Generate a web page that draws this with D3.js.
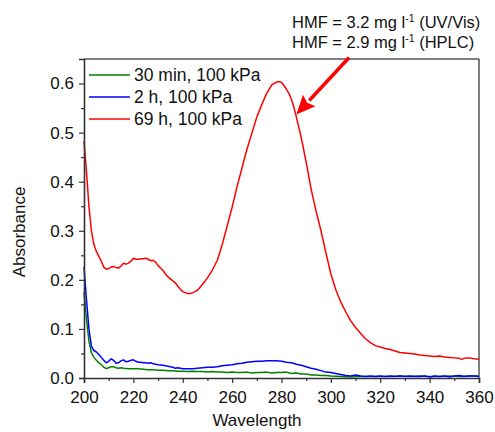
<!doctype html>
<html>
<head>
<meta charset="utf-8">
<script src="https://cdn.jsdelivr.net/npm/d3@7"></script>
<style>
  body { margin: 0; background: #fff; }
  svg { font-family: "Liberation Sans", Arial, sans-serif; }
</style>
</head>
<body>
<svg id="chart" width="495" height="432"></svg>
<script>
// UV/Vis spectra, [wavelength, absorbance]
const green30min = [
  [200,0.175],[201,0.12],[202,0.075],[203,0.052],[204,0.042],[205,0.036],[206,0.031],[207,0.027],
  [208,0.022],[209,0.019],[210,0.021],[211,0.023],[212,0.023],[213,0.021],[214,0.020],[215,0.021],
  [216,0.020],[218,0.019],[220,0.019],[222,0.019],[224,0.018],[226,0.017],[228,0.017],[230,0.016],
  [232,0.016],[234,0.015],[236,0.015],[238,0.014],[240,0.014],[242,0.013],[244,0.014],[246,0.013],
  [248,0.013],[250,0.012],[252,0.013],[254,0.012],[256,0.012],[258,0.011],[260,0.012],[262,0.011],
  [264,0.011],[266,0.012],[268,0.010],[270,0.011],[272,0.011],[274,0.012],[276,0.010],[278,0.011],
  [280,0.011],[282,0.012],[284,0.009],[286,0.010],[288,0.008],[290,0.008],[292,0.006],[294,0.006],
  [296,0.005],[298,0.005],[300,0.004],[304,0.003],[308,0.002],[312,0.003],[316,0.003],[320,0.003],
  [324,0.003],[328,0.004],[332,0.003],[336,0.004],[340,0.003],[344,0.003],[348,0.004],[352,0.003],
  [356,0.004],[360,0.004]
];
const blue2h = [
  [200,0.226],[201,0.16],[202,0.10],[203,0.065],[204,0.056],[205,0.053],[206,0.048],[207,0.042],
  [208,0.036],[209,0.031],[210,0.034],[211,0.039],[212,0.036],[213,0.030],[214,0.031],[215,0.035],
  [216,0.037],[217,0.033],[218,0.034],[219,0.036],[220,0.037],[221,0.034],[222,0.032],[223,0.032],
  [224,0.031],[225,0.031],[226,0.030],[227,0.031],[228,0.029],[229,0.028],[230,0.027],[232,0.026],
  [234,0.024],[236,0.022],[237,0.020],[238,0.021],[240,0.019],[242,0.019],[244,0.019],[246,0.020],
  [248,0.021],[250,0.022],[252,0.022],[254,0.023],[256,0.025],[258,0.026],[260,0.027],[262,0.029],
  [264,0.030],[266,0.032],[268,0.033],[270,0.034],[272,0.034],[274,0.035],[276,0.035],[278,0.035],
  [280,0.034],[282,0.032],[284,0.031],[286,0.028],[288,0.026],[290,0.023],[292,0.020],[294,0.018],
  [296,0.015],[298,0.012],[300,0.011],[302,0.009],[304,0.007],[306,0.005],[308,0.004],[310,0.006],
  [312,0.004],[314,0.003],[316,0.004],[318,0.003],[320,0.004],[322,0.003],[324,0.004],[326,0.003],
  [328,0.004],[330,0.003],[332,0.004],[334,0.003],[336,0.003],[338,0.004],[340,0.002],[342,0.004],
  [344,0.003],[346,0.004],[348,0.002],[350,0.004],[352,0.005],[354,0.003],[356,0.004],[358,0.004],
  [360,0.003]
];
const red69h = [
  [200,0.483],[201,0.42],[202,0.35],[203,0.30],[204,0.272],[205,0.258],[206,0.248],[207,0.238],
  [208,0.226],[209,0.222],[210,0.223],[211,0.226],[212,0.227],[213,0.225],[214,0.224],[215,0.228],
  [216,0.234],[217,0.232],[218,0.234],[219,0.238],[220,0.244],[221,0.242],[222,0.242],[223,0.243],
  [224,0.243],[225,0.244],[226,0.242],[227,0.239],[228,0.240],[229,0.236],[230,0.229],[231,0.224],
  [232,0.219],[233,0.212],[234,0.206],[235,0.202],[236,0.198],[237,0.194],[238,0.187],[239,0.181],
  [240,0.176],[241,0.174],[242,0.172],[243,0.172],[244,0.174],[245,0.176],[246,0.179],[247,0.185],
  [248,0.191],[249,0.197],[250,0.204],[252,0.220],[254,0.240],[256,0.272],[258,0.310],[260,0.348],
  [262,0.390],[264,0.428],[266,0.466],[268,0.499],[270,0.532],[272,0.557],[274,0.580],[276,0.597],
  [278,0.603],[279,0.604],[280,0.602],[281,0.596],[282,0.588],[283,0.580],[284,0.568],[285,0.552],
  [286,0.532],[288,0.490],[290,0.440],[292,0.385],[294,0.340],[296,0.300],[298,0.255],[300,0.212],
  [302,0.180],[304,0.155],[306,0.135],[308,0.117],[310,0.103],[312,0.091],[314,0.080],[316,0.072],
  [318,0.066],[320,0.063],[322,0.060],[324,0.058],[326,0.055],[328,0.052],[330,0.051],[332,0.050],
  [334,0.049],[336,0.047],[338,0.046],[340,0.045],[342,0.044],[344,0.045],[346,0.043],[348,0.042],
  [350,0.041],[352,0.040],[353,0.038],[354,0.040],[356,0.041],[358,0.039],[360,0.038]
];

const seriesNames = ["30 min, 100 kPa", "2 h, 100 kPa", "69 h, 100 kPa"];
const seriesColors = ["#008000", "#0000ff", "#ff0000"];
const seriesData = [green30min, blue2h, red69h];

const xTicks = [200, 220, 240, 260, 280, 300, 320, 340, 360];
const yTicks = [0.0, 0.1, 0.2, 0.3, 0.4, 0.5, 0.6];

const annotationLines = [["HMF = 3.2 mg l", "-1", " (UV/Vis)"], ["HMF = 2.9 mg l", "-1", " (HPLC)"]];
// arrow from above the frame down onto the 69 h peak flank
const arrowFrom = [307.4, 0.653];
const arrowTo = [286.0, 0.537];

const margin = {top: 59, right: 16, bottom: 54, left: 84};
const W = 495, H = 432;
const iw = W - margin.left - margin.right;
const ih = H - margin.top - margin.bottom;

const svg = d3.select("#chart");
const g = svg.append("g").attr("transform", `translate(${margin.left},${margin.top})`);

const x = d3.scaleLinear().domain([200, 360]).range([0, iw]);
const y = d3.scaleLinear().domain([0, 0.65]).range([ih, 0]);

// frame top/right
g.append("path")
    .attr("d", `M0,0H${iw}V${ih}`)
    .attr("fill", "none")
    .attr("stroke", "#000")
    .attr("stroke-width", 1);

const line = d3.line().x(d => x(d[0])).y(d => y(d[1]));

g.append("g")
  .selectAll("path")
  .data(seriesData)
  .join("path")
    .attr("d", line)
    .attr("fill", "none")
    .attr("stroke", (d, i) => seriesColors[i])
    .attr("stroke-width", 1.5)
    .attr("stroke-linejoin", "round");

// axes: major + minor ticks outward
const xMinor = d3.range(210, 360, 20);
const yMinor = d3.range(0.05, 0.65, 0.1);

const xAxis = g.append("g").attr("transform", `translate(0,${ih})`)
    .call(d3.axisBottom(x).tickValues(xTicks).tickFormat(d3.format("d")).tickSize(5).tickPadding(8));
g.append("g").attr("transform", `translate(0,${ih})`)
    .call(d3.axisBottom(x).tickValues(xMinor).tickFormat("").tickSize(3))
    .call(a => a.select(".domain").remove());

const yAxis = g.append("g")
    .call(d3.axisLeft(y).tickValues(yTicks).tickFormat(d3.format(".1f")).tickSize(5).tickPadding(5));
g.append("g")
    .call(d3.axisLeft(y).tickValues(yMinor).tickFormat("").tickSize(3))
    .call(a => a.select(".domain").remove());

g.selectAll(".tick line").attr("stroke", "#333").attr("stroke-width", 1.2);
[xAxis, yAxis].forEach(a => {
  a.select(".domain").attr("stroke", "#333").attr("stroke-width", 1.6);
  a.selectAll("text").attr("font-size", 17).attr("fill", "#111").attr("font-family", "Liberation Sans, Arial");
});

// axis titles
svg.append("text")
    .attr("x", 257).attr("y", 426)
    .attr("text-anchor", "middle")
    .attr("font-size", 17).attr("fill", "#111")
    .text("Wavelength");

svg.append("text")
    .attr("transform", "translate(25,232) rotate(-90)")
    .attr("text-anchor", "middle")
    .attr("font-size", 17).attr("fill", "#111")
    .text("Absorbance");

// legend
const legend = g.append("g").attr("transform", "translate(5,16)");
const item = legend.selectAll("g").data(seriesNames).join("g")
    .attr("transform", (d, i) => `translate(0,${i * 22})`);
item.append("line")
    .attr("x1", 0).attr("x2", 41)
    .attr("stroke", (d, i) => seriesColors[i])
    .attr("stroke-width", 1.5);
item.append("text")
    .attr("x", 45).attr("y", 6)
    .attr("font-size", 17.5).attr("fill", "#111")
    .text(d => d);

// annotation
annotationLines.forEach((parts, i) => {
  const t = svg.append("text")
      .attr("x", 292).attr("y", 28 + i * 20)
      .attr("font-size", 16.5).attr("fill", "#111");
  t.append("tspan").text(parts[0]);
  t.append("tspan").attr("font-size", 10.5).attr("dy", -6).text(parts[1]);
  t.append("tspan").attr("dy", 6).text(parts[2]);
});

// red arrow
const [x0, y0] = [x(arrowFrom[0]), y(arrowFrom[1])];
const [x1, y1] = [x(arrowTo[0]), y(arrowTo[1])];
const ang = Math.atan2(y1 - y0, x1 - x0);
const headLen = 19, headHalf = 8.5;
const bx = x1 - headLen * Math.cos(ang), by = y1 - headLen * Math.sin(ang);
g.append("line")
    .attr("x1", x0).attr("y1", y0).attr("x2", bx).attr("y2", by)
    .attr("stroke", "#ff0000").attr("stroke-width", 3.5);
g.append("path")
    .attr("d", `M${x1},${y1}L${bx + headHalf * Math.sin(ang)},${by - headHalf * Math.cos(ang)}L${bx + 3 * Math.cos(ang)},${by + 3 * Math.sin(ang)}L${bx - headHalf * Math.sin(ang)},${by + headHalf * Math.cos(ang)}Z`)
    .attr("fill", "#ff0000");
</script>
</body>
</html>
